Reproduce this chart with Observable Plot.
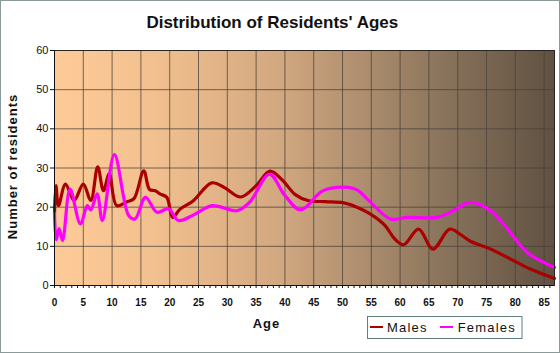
<!DOCTYPE html>
<html>
<head>
<meta charset="utf-8">
<script src="https://cdn.jsdelivr.net/npm/d3@7"></script>
<script src="https://cdn.jsdelivr.net/npm/@observablehq/plot@0.6"></script>
<style>
  html, body { margin: 0; padding: 0; background: #ffffff; }
  #chart { width: 560px; height: 353px; }
</style>
</head>
<body>
<div id="chart"></div>
<script>
// ---- data ----
const maleAges   = [0, 0.25, 0.7, 1.9, 3.4, 5, 6.3, 7.5, 8.5, 9.5, 10.8, 12.6, 13.8, 15.5, 16.5, 17.5, 18.3, 19.5, 20.5, 21.8, 24, 27.3, 29.5, 32.3, 35, 37.4, 39.5, 41.8, 44, 47, 50.2, 52.5, 54.8, 57.4, 59, 60.6, 63.2, 65.7, 68.6, 70.5, 72.2, 75.7, 79.1, 82.6, 86.8];
const maleCounts = [18.3, 25.5, 20.4, 25.9, 21.7, 25.9, 21.7, 30.3, 24.2, 28.5, 20.4, 21.4, 22.2, 29.3, 24.5, 24.2, 23.4, 22.5, 17.4, 19.5, 21.5, 26.2, 25.0, 22.6, 25.5, 29.2, 27.0, 23.2, 21.7, 21.4, 21.1, 20.0, 18.3, 15.3, 12.0, 10.4, 14.4, 9.3, 14.4, 13.0, 11.3, 9.3, 6.8, 4.2, 1.8];

const femaleAges   = [0, 0.3, 0.8, 1.4, 2.7, 4.5, 5.7, 6.3, 7.4, 8.3, 10.4, 12.9, 14, 15.8, 17.8, 19.8, 21.5, 24, 27.4, 31.7, 34, 37.3, 40, 42.7, 46.5, 50.2, 52.5, 54.5, 58.3, 61.2, 66.4, 68.7, 72.2, 75.7, 79.1, 82, 86.8];
const femaleCounts = [18.5, 11.7, 14.5, 11.5, 24.6, 15.7, 20.4, 19.3, 23.4, 16.6, 33.4, 17.8, 17.0, 22.5, 18.7, 19.6, 16.6, 17.9, 20.4, 19.1, 21.5, 28.4, 23.0, 19.3, 24.1, 25.1, 24.4, 21.8, 17.0, 17.4, 17.4, 18.7, 21.2, 19.1, 13.6, 8.5, 4.6];

const xTickLabels = [0, 5, 10, 15, 20, 25, 30, 35, 40, 45, 50, 55, 60, 65, 70, 75, 80, 85];
const xMinorTicks = d3.range(0, 87, 1);
const yTickLabels = [0, 10, 20, 30, 40, 50, 60];
const seriesNames = ["Males", "Females"];
const seriesColors = ["#aa0000", "#ff00ff"];

const rows = [
  ...maleAges.map((a, i) => ({age: a, count: maleCounts[i], sex: seriesNames[0]})),
  ...femaleAges.map((a, i) => ({age: a, count: femaleCounts[i], sex: seriesNames[1]}))
];

const font = "'Liberation Sans', Arial, Helvetica, sans-serif";

const chart = Plot.plot({
  width: 560,
  height: 353,
  marginLeft: 54,
  marginTop: 50,
  marginRight: 6,
  marginBottom: 68,
  style: {background: "transparent", fontFamily: font, color: "#111"},
  x: {domain: [0, 86.8]},
  y: {domain: [0, 60]},
  color: {domain: seriesNames, range: seriesColors},
  marks: [
    Plot.ruleX(xTickLabels.filter(d => d > 0), {stroke: "#4a4038", strokeOpacity: 0.75, strokeWidth: 1}),
    Plot.ruleY(yTickLabels.filter(d => d > 0 && d < 60), {stroke: "#4a4038", strokeOpacity: 0.75, strokeWidth: 1}),
    Plot.line(rows, {x: "age", y: "count", z: "sex", stroke: "sex", strokeWidth: 3.2, curve: "catmull-rom"}),
    Plot.frame({stroke: "#2a2420", strokeWidth: 1}),
    Plot.axisX({ticks: xMinorTicks, tickSize: 3, tickFormat: () => "", label: null, stroke: "#111"}),
    Plot.axisX({ticks: xTickLabels, tickSize: 0, tickPadding: 13, fontSize: 10, label: null}),
    Plot.axisY({ticks: yTickLabels, tickSize: 4, tickPadding: 2, fontSize: 11, label: null}),
    Plot.ruleY([0], {stroke: "#111"}),
    Plot.ruleX([0], {stroke: "#111"})
  ]
});

document.getElementById("chart").appendChild(chart);

const svg = d3.select(chart);
const sx = chart.scale("x"), sy = chart.scale("y");
const x0 = sx.apply(0), x1 = sx.apply(86.8), y0 = sy.apply(60), y1 = sy.apply(0);

// background gradient of plot area
const defs = svg.insert("defs", ":first-child");
const grad = defs.append("linearGradient").attr("id", "bgGrad").attr("x1", "0").attr("x2", "1").attr("y1", "0").attr("y2", "0");
[[0, "#fecb98"], [0.2, "#f2c08f"], [0.45, "#d2a880"], [0.63, "#ab8c6d"], [0.8, "#857059"], [1, "#605142"]]
  .forEach(([o, c]) => grad.append("stop").attr("offset", o).attr("stop-color", c));
svg.insert("rect", "defs + *")
  .attr("x", x0).attr("y", y0).attr("width", x1 - x0).attr("height", y1 - y0)
  .attr("fill", "url(#bgGrad)");

svg.selectAll('g[aria-label="x-axis tick label"]').attr("font-weight", "bold");

// outer border
svg.append("rect").attr("x", 0.5).attr("y", 0.5).attr("width", 559).attr("height", 352)
  .attr("fill", "none").attr("stroke", "#8a9a9a");

// title
svg.append("text").attr("x", 272.3).attr("y", 28.3).attr("text-anchor", "middle")
  .attr("font-family", font).attr("font-size", 17).attr("font-weight", "bold").attr("fill", "#111")
  .text("Distribution of Residents' Ages");

// axis titles
svg.append("text").attr("x", 266.5).attr("y", 327.7).attr("text-anchor", "middle")
  .attr("font-family", font).attr("font-size", 13).attr("font-weight", "bold").attr("letter-spacing", 1).attr("fill", "#111")
  .text("Age");
svg.append("text").attr("transform", "translate(17,166.5) rotate(-90)").attr("text-anchor", "middle")
  .attr("font-family", font).attr("font-size", 13).attr("font-weight", "bold").attr("letter-spacing", 1).attr("fill", "#111")
  .text("Number of residents");

// legend
const lg = svg.append("g");
lg.append("rect").attr("x", 367.5).attr("y", 316.5).attr("width", 154.5).attr("height", 22)
  .attr("fill", "none").attr("stroke", "#5f7f7f");
const legendItems = [{x: 370, tx: 387}, {x: 440, tx: 457.7}];
seriesNames.forEach((name, i) => {
  const it = legendItems[i];
  lg.append("line").attr("x1", it.x).attr("x2", it.x + 13).attr("y1", 327).attr("y2", 327)
    .attr("stroke", seriesColors[i]).attr("stroke-width", 2);
  lg.append("text").attr("x", it.tx).attr("y", 331.8).attr("text-anchor", "start")
    .attr("font-family", font).attr("font-size", 13).attr("letter-spacing", 1.2).attr("fill", "#111")
    .text(name);
});
</script>
</body>
</html>
